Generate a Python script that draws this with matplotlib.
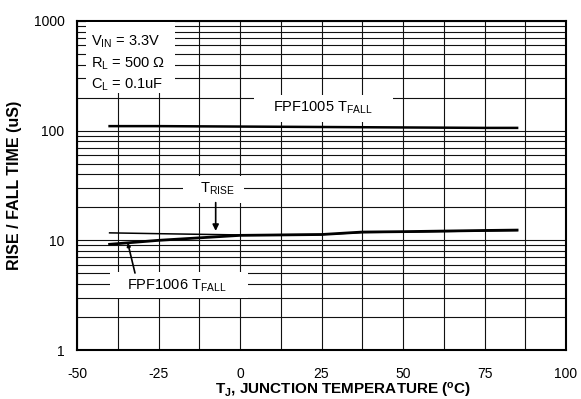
import matplotlib
matplotlib.use('Agg')
import matplotlib.pyplot as plt
import matplotlib.patches as patches
from matplotlib.ticker import FixedLocator, NullFormatter

plt.rcParams['font.family'] = ['Liberation Sans', 'DejaVu Sans']
plt.rcParams['mathtext.fontset'] = 'custom'
plt.rcParams['mathtext.rm'] = 'Liberation Sans'
plt.rcParams['mathtext.default'] = 'regular'
plt.rcParams['axes.unicode_minus'] = False

# Data
temp = [-40, -25, 0, 25, 37.5, 50, 75, 85]
fpf1005_fall = [110, 110, 109, 108, 107.5, 107, 106, 106]
t_rise = [11.7, 11.5, 11.2, 11.3, 11.8, 11.9, 12.2, 12.3]
fpf1006_fall = [9.2, 10.0, 11.1, 11.3, 11.9, 12.0, 12.3, 12.4]

x_ticks = [-50, -25, 0, 25, 50, 75, 100]
y_ticks = [1, 10, 100, 1000]
y_labels = ['1', '10', '100', '1000']

fig = plt.figure(figsize=(5.81, 3.99), dpi=100)
ax = fig.add_axes([77 / 581, 1 - 350 / 399, 489 / 581, 329 / 399])

ax.set_yscale('log')
ax.set_xlim(-50, 100)
ax.set_ylim(1, 1000)

ax.set_xticks(x_ticks)
ax.xaxis.set_minor_locator(FixedLocator([-37.5, -12.5, 12.5, 37.5, 62.5, 87.5]))
ax.set_yticks(y_ticks)
ax.set_yticklabels(y_labels)
ax.yaxis.set_minor_locator(FixedLocator([m * d for d in (1, 10, 100) for m in range(2, 10)]))
ax.yaxis.set_minor_formatter(NullFormatter())

ax.tick_params(which='both', length=0, labelsize=10)
ax.tick_params(axis='x', pad=12)
ax.tick_params(axis='y', pad=9)
ax.grid(True, which='both', color='#111111', linewidth=0.8)
for s in ax.spines.values():
    s.set_linewidth(1.5)

# curves
ax.plot(temp, fpf1005_fall, color='black', lw=1.8, zorder=4)
ax.plot(temp, t_rise, color='black', lw=1.1, zorder=4)
ax.plot(temp, fpf1006_fall, color='black', lw=2.0, zorder=4)

# white boxes behind labels (axes fraction)
def white_box(x0, x1, y0, y1):
    r = patches.Rectangle((x0, y0), x1 - x0, y1 - y0, transform=ax.transAxes,
                          facecolor='white', edgecolor='none', zorder=3)
    ax.add_patch(r)

white_box(0.018, 0.200, 0.781, 0.997)
white_box(0.362, 0.646, 0.693, 0.775)
white_box(0.217, 0.342, 0.447, 0.529)
white_box(0.0675, 0.350, 0.158, 0.237)

tkw = dict(transform=ax.transAxes, fontsize=10.5, zorder=5, va='center')
ax.text(0.028, 0.936, r'V$_{IN}$ = 3.3V', **tkw)
ax.text(0.028, 0.870, r'R$_{L}$ = 500 Ω', **tkw)
ax.text(0.028, 0.805, r'C$_{L}$ = 0.1uF', **tkw)
ax.text(0.503, 0.736, r'FPF1005 T$_{FALL}$', ha='center', **tkw)
ax.text(0.286, 0.489, r'T$_{RISE}$', ha='center', **tkw)
ax.text(0.204, 0.195, r'FPF1006 T$_{FALL}$', ha='center', **tkw)

ax.annotate('', xy=(0.2836, 0.362), xytext=(0.2836, 0.448), xycoords='axes fraction',
            arrowprops=dict(arrowstyle='-|>', color='black', lw=1.2, mutation_scale=9,
                            shrinkA=0, shrinkB=0), zorder=5)
ax.annotate('', xy=(0.1037, 0.326), xytext=(0.1186, 0.234), xycoords='axes fraction',
            arrowprops=dict(arrowstyle='-|>', color='black', lw=1.2, mutation_scale=5,
                            shrinkA=0, shrinkB=0), zorder=5)

ax.set_xlabel(r'T$_J$, JUNCTION TEMPERATURE ($^o$C)', fontsize=11, fontweight='bold')
ax.xaxis.set_label_coords(0.544, -0.137)
ax.xaxis.label.set_va('baseline')
ax.set_ylabel('RISE / FALL TIME (uS)', fontsize=11.5, fontweight='bold')
ax.yaxis.set_label_coords(-0.127, 0.5)
ax.yaxis.label.set_va('center')

fig.savefig('out.png', dpi=100)
